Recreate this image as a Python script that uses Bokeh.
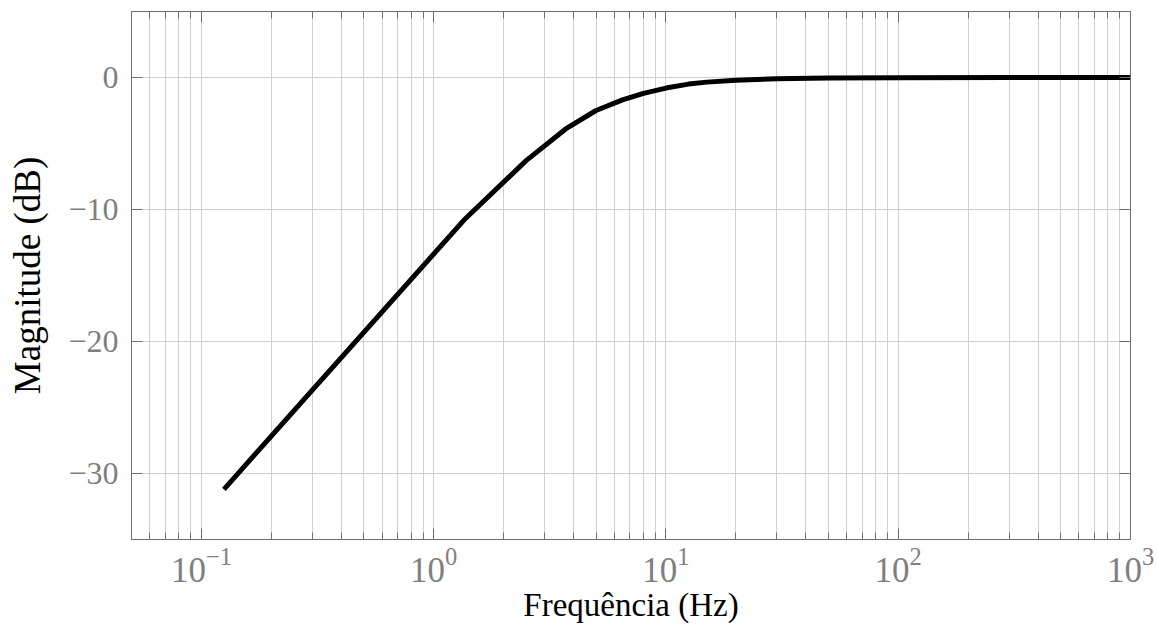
from bokeh.plotting import figure
from bokeh.models import Range1d, FixedTicker, LinearAxis, ColumnDataSource
from bokeh.embed import file_html
from bokeh.resources import INLINE

# Data
freq_hz = [0.125, 1.35, 2.5, 3.7, 5.0, 6.5, 8.0, 10.0, 12.5, 15.0, 20.0, 30.0, 50.0, 100.0, 300.0, 1000.0]
magnitude_db = [-31.2, -10.8, -6.3, -3.9, -2.5, -1.7, -1.2, -0.8, -0.5, -0.35, -0.2, -0.09, -0.03, -0.01, 0.0, 0.0]

x_major_ticks = [0.1, 1, 10, 100, 1000]
x_minor_ticks = [m * 10.0 ** e for e in range(-2, 3) for m in range(2, 10)]
y_major_ticks = [-30, -20, -10, 0]

x_label = "Frequência (Hz)"
y_label = "Magnitude (dB)"

FONT = "Liberation Serif"
FRAME = "#6f6f6f"
GRID = "#cfcfcf"
TICKLBL = "#7f7f7f"

p = figure(width=1158, height=628, x_axis_type="log",
           x_range=Range1d(0.05, 1000), y_range=Range1d(-35, 5),
           output_backend="svg", toolbar_location=None,
           min_border_left=131, min_border_right=28,
           min_border_top=11, min_border_bottom=89)
p.background_fill_color = "white"
p.border_fill_color = "white"
p.outline_line_color = FRAME
p.outline_line_width = 1

xt = FixedTicker(ticks=x_major_ticks, minor_ticks=x_minor_ticks)
yt = FixedTicker(ticks=y_major_ticks, minor_ticks=[])

p.xaxis.ticker = xt
p.yaxis.ticker = yt

for ax in (p.xaxis[0], p.yaxis[0]):
    ax.axis_line_color = FRAME
    ax.major_tick_line_color = FRAME
    ax.minor_tick_line_color = FRAME
    ax.major_tick_in = 11
    ax.major_tick_out = 0
    ax.minor_tick_in = 7
    ax.minor_tick_out = 0
    ax.major_label_text_font = FONT
    ax.major_label_text_color = TICKLBL
    ax.axis_label_text_font = FONT
    ax.axis_label_text_font_style = "normal"
    ax.axis_label_text_color = "black"

p.xaxis.major_label_text_font_size = "35px"
p.xaxis.axis_label = x_label
p.xaxis.axis_label_text_font_size = "33px"
p.xaxis.major_label_standoff = 8
p.xaxis.axis_label_standoff = 2

p.yaxis.major_label_text_font_size = "32px"
p.yaxis.axis_label = y_label
p.yaxis.axis_label_text_font_size = "37px"
p.yaxis.major_label_standoff = 13
p.yaxis.axis_label_standoff = 17

# mirrored ticks on top and right (no labels)
top = LinearAxis(ticker=xt, major_label_text_color=None, major_label_text_font_size="1px",
                 major_label_standoff=0,
                 axis_line_color=FRAME, major_tick_line_color=FRAME, minor_tick_line_color=FRAME,
                 major_tick_in=11, major_tick_out=0, minor_tick_in=7, minor_tick_out=0)
right = LinearAxis(ticker=yt, major_label_text_color=None, major_label_text_font_size="1px",
                   major_label_standoff=0,
                   axis_line_color=FRAME, major_tick_line_color=FRAME, minor_tick_line_color=None,
                   major_tick_in=11, major_tick_out=0, minor_tick_in=0, minor_tick_out=0)
p.add_layout(top, "above")
p.add_layout(right, "right")

p.xgrid.grid_line_color = GRID
p.xgrid.minor_grid_line_color = GRID
p.xgrid.grid_line_width = 1
p.xgrid.minor_grid_line_width = 1
p.ygrid.grid_line_color = GRID
p.ygrid.grid_line_width = 1

src = ColumnDataSource(dict(f=freq_hz, m=magnitude_db))
p.line("f", "m", source=src, line_color="black", line_width=5)

open("out.html", "w").write(file_html(p, INLINE))
